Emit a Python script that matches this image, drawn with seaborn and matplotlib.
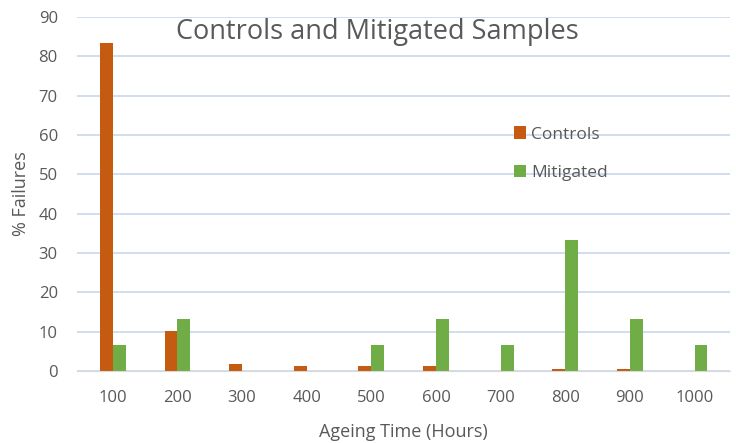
import matplotlib
matplotlib.use("Agg")
import matplotlib.pyplot as plt
import seaborn as sns
import pandas as pd

hours = ["100", "200", "300", "400", "500", "600", "700", "800", "900", "1000"]
controls = [83.3, 10.2, 1.8, 1.2, 1.2, 1.2, 0.0, 0.4, 0.4, 0.0]
mitigated = [6.7, 13.3, 0.0, 0.0, 6.7, 13.3, 6.7, 33.3, 13.3, 6.7]
series = ["Controls", "Mitigated"]
colors = ["#C55A11", "#70AD47"]

df = pd.DataFrame({
    "Hours": hours * 2,
    "Value": controls + mitigated,
    "Series": [series[0]] * len(hours) + [series[1]] * len(hours),
})

sns.set_style("white")
plt.rcParams['font.family'] = ['Open Sans', 'DejaVu Sans']

fig = plt.figure(figsize=(7.36, 4.43), dpi=100)
ax = fig.add_axes([0.105, 0.1625, 0.887, 0.799])
sns.barplot(data=df, x="Hours", y="Value", hue="Series", palette=colors,
            width=0.4, ax=ax, saturation=1, edgecolor="none", order=hours)

ax.set_ylim(0, 90)
ax.set_yticks(range(0, 91, 10))
ax.set_xlim(-0.55, 9.55)
ax.yaxis.grid(True, color="#C9D7EC", linewidth=1.2)
ax.set_axisbelow(True)
for s in ["top", "right", "left"]:
    ax.spines[s].set_visible(False)
ax.spines["bottom"].set_color("#D9D9D9")
ax.tick_params(axis="both", length=0, colors="#595959", labelsize=12)
ax.tick_params(axis="x", pad=14)
ax.tick_params(axis="y", pad=14)
ax.set_xlabel("Ageing Time (Hours)", fontsize=13, color="#595959", labelpad=12)
ax.set_ylabel("% Failures", fontsize=13, color="#595959", labelpad=6)
fig.text(377 / 736, 1 - 32 / 443, "Controls and Mitigated Samples",
         ha="center", va="center", fontsize=19.5, color="#595959")

leg = ax.legend(loc="upper left", bbox_to_anchor=(0.645, 0.735), frameon=False,
                fontsize=12.5, handlelength=0.7, handleheight=0.7,
                labelspacing=1.3, handletextpad=0.3)
for t in leg.get_texts():
    t.set_color("#595959")

fig.savefig("out.png", dpi=100)
